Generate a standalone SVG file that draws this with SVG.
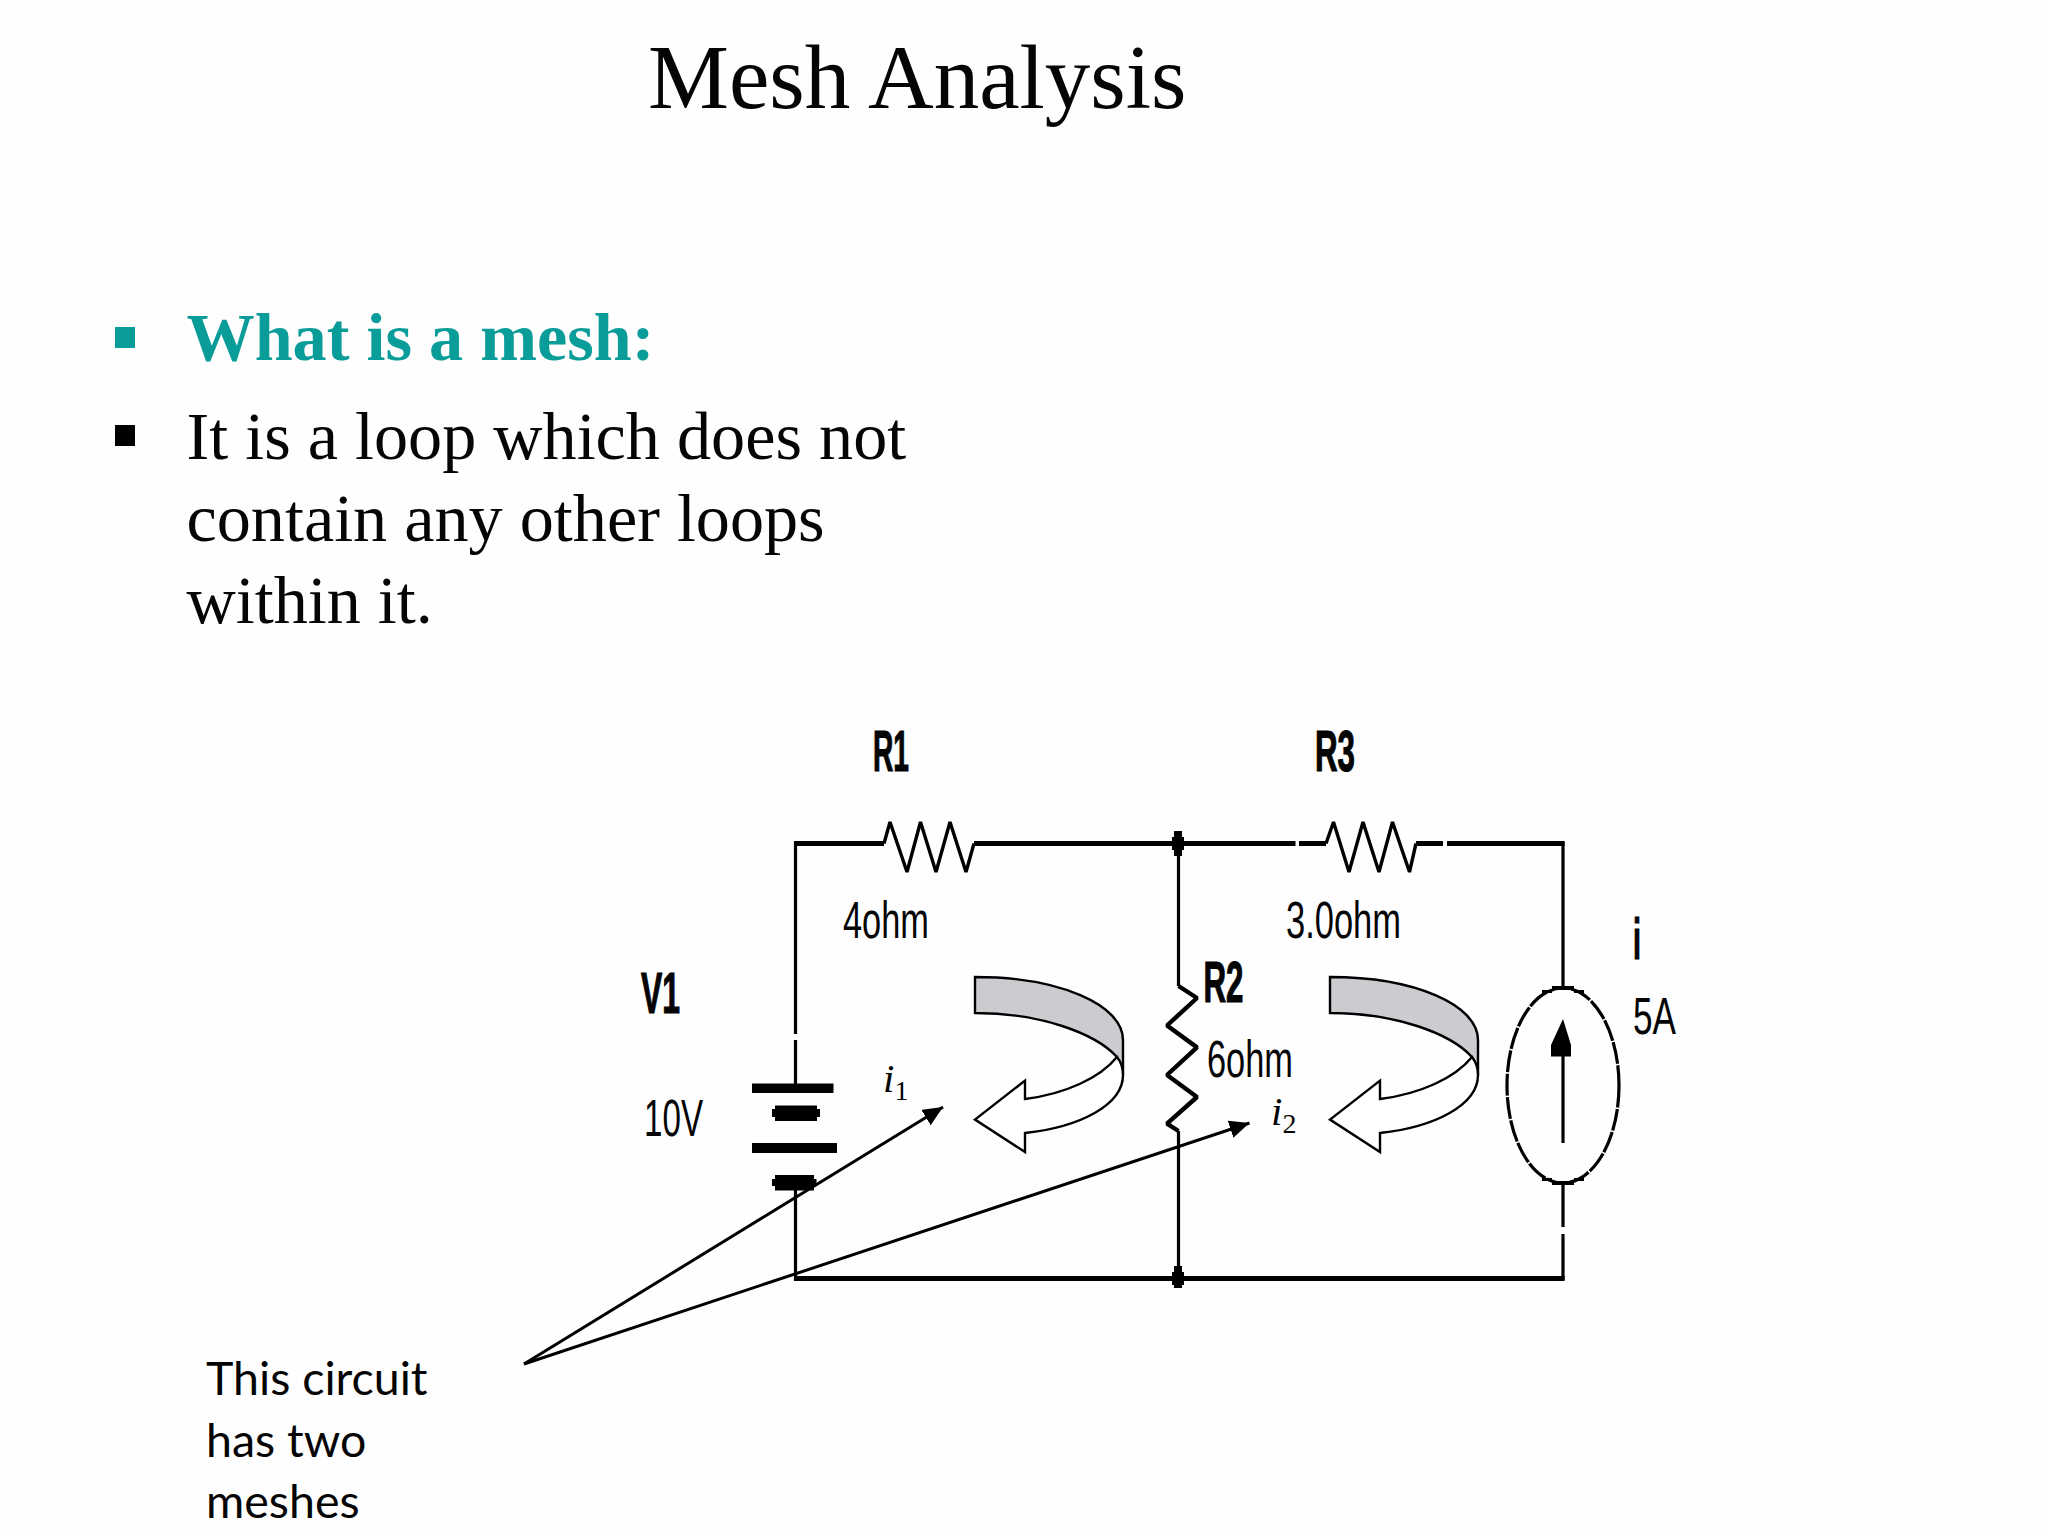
<svg xmlns="http://www.w3.org/2000/svg" xmlns:xlink="http://www.w3.org/1999/xlink" width="2048" height="1536" viewBox="0 0 2048 1536">
<style>
text{fill:#050505}
.ser{font-family:"Liberation Serif","Times New Roman",serif}
.h{font-size:91px}
.b{font-size:68.2px}
.note{font-family:Lato,"Open Sans",sans-serif;font-size:46.5px}
.lb{font-family:"Liberation Sans",Arial,sans-serif;font-weight:700;font-size:58px;stroke:#000;stroke-width:1.2}
.lr{font-family:"Liberation Sans",Arial,sans-serif;font-size:52px}
.it{font-style:italic;font-size:41px}
.sub{font-size:28px}
.wt{fill:none;stroke:#000;stroke-width:5}
.wn{fill:none;stroke:#000;stroke-width:3.2}
.zig{fill:none;stroke:#000;stroke-width:3.4;stroke-linejoin:bevel}
.ptr{fill:none;stroke:#000;stroke-width:3}
.cv{stroke:#000;stroke-width:2.4;stroke-linejoin:miter}
</style>
<defs>
<marker id="ah" markerUnits="userSpaceOnUse" markerWidth="24" markerHeight="20" refX="20" refY="9" orient="auto"><path d="M0 0L20 9L0 18Z" fill="#000"/></marker>
<g id="curl">
<path class="cv" fill="#cbcbd0" d="M975 977C1060 977 1123 1005 1123 1040V1075C1123 1068 1120 1062 1117 1057C1095 1033 1040 1013 975 1013Z"/>
<path class="cv" fill="#fff" d="M1117 1057C1121 1062 1123 1068 1123 1075C1123 1105 1080 1127 1025 1133V1152L975 1119.6L1025 1080.6V1099C1065 1094 1100 1078 1117 1057Z"/>
</g>
</defs>
<rect width="2048" height="1536" fill="#fefefe"/>
<g id="title"><text class="ser h" x="648" y="108">Mesh Analysis</text></g>
<g id="bullets">
<rect x="115" y="327" width="20" height="21" fill="#0a9c99"/>
<text class="ser b" x="186.5" y="360" font-weight="700" style="fill:#0a9c99">What is a mesh:</text>
<rect x="115" y="425" width="20" height="21" fill="#000"/>
<text class="ser b" x="186.5" y="459">It is a loop which does not</text>
<text class="ser b" x="186.5" y="541">contain any other loops</text>
<text class="ser b" x="186.5" y="623">within it.</text>
</g>
<g id="connectors">
<path class="wt" d="M794 843.5H884M974 843.5H1295.5M1299 843.5H1326M1416 843.5H1443M1447 843.5H1564.6"/>
<path class="wt" d="M794 1278.5H1564.6"/>
<path class="wn" d="M795.5 842V1034M795.5 1040V1084M795.5 1190V1280"/>
<path class="wn" d="M1178.5 843.5V986M1178.5 1131V1278"/>
<path class="wn" d="M1563 842V987M1563 1184V1227M1563 1234V1280"/>
<path class="ptr" marker-end="url(#ah)" d="M524 1364L943 1107"/>
<path class="ptr" marker-end="url(#ah)" d="M524 1364L1249.5 1123"/>
</g>
<g id="R1">
<path class="zig" d="M884 843.5L890 822L907 872L920.5 822L936 872L950 822L966 872L974 843.5"/>
<text class="lb" x="873" y="771" textLength="36" lengthAdjust="spacingAndGlyphs">R1</text>
<text class="lr" x="843" y="938" textLength="86" lengthAdjust="spacingAndGlyphs">4ohm</text>
</g>
<g id="R3">
<path class="zig" d="M1326 843.5L1333.5 822L1349 872L1363 822L1379 872L1392.5 822L1409.5 872L1416 843.5"/>
<text class="lb" x="1315" y="771" textLength="40" lengthAdjust="spacingAndGlyphs">R3</text>
<text class="lr" x="1286" y="938" textLength="115" lengthAdjust="spacingAndGlyphs">3.0ohm</text>
</g>
<g id="R2">
<path class="zig" style="stroke-width:4.4" d="M1178.5 986L1197 998L1167 1025.5L1197 1047.4L1167 1075L1197 1097L1167 1123.7L1178.5 1131"/>
<text class="lb" x="1203.5" y="1002" textLength="40" lengthAdjust="spacingAndGlyphs">R2</text>
<text class="lr" x="1207" y="1077" textLength="86" lengthAdjust="spacingAndGlyphs">6ohm</text>
</g>
<g id="junctions">
<path d="M1174 831H1182V837H1184V850H1182V856H1174V850H1172V837H1174Z" fill="#000"/>
<path d="M1174 1266H1182V1272H1184V1285H1182V1288H1174V1285H1172V1272H1174Z" fill="#000"/>
</g>
<g id="V1">
<rect x="752" y="1083.5" width="81.5" height="9.5" fill="#000"/>
<path d="M775 1105.5H817V1109H820V1117H817V1121H775V1117H772V1109H775Z" fill="#000"/>
<rect x="752" y="1143" width="85" height="10" fill="#000"/>
<path d="M775 1175H814V1179H816.5V1186H814V1190.5H775V1186H772V1179H775Z" fill="#000"/>
<text class="lb" x="641" y="1013" textLength="39" lengthAdjust="spacingAndGlyphs">V1</text>
<text class="lr" x="644" y="1136" textLength="59" lengthAdjust="spacingAndGlyphs">10V</text>
</g>
<g id="I1">
<ellipse class="wn" cx="1563" cy="1085.5" rx="56" ry="97.5" stroke-dasharray="22 1.5"/>
<path d="M1552 986H1574V990H1584V993H1574V990H1552V993H1542V990H1552ZM1552 1181H1574V1185H1552ZM1542 1178H1552V1181H1542ZM1574 1178H1584V1181H1574Z" fill="#000"/>
<path class="wn" d="M1563 1143V1050"/>
<path d="M1563 1019L1571 1045V1056.5H1551V1045Z" fill="#000"/>
<text class="lb" x="1633" y="959" textLength="8" lengthAdjust="spacingAndGlyphs">i</text>
<text class="lr" x="1633" y="1034" textLength="43" lengthAdjust="spacingAndGlyphs">5A</text>
</g>
<g id="mesh1">
<use href="#curl" xlink:href="#curl"/>
<text class="ser" x="883" y="1092"><tspan class="it">i</tspan><tspan class="sub" dy="8">1</tspan></text>
</g>
<g id="mesh2">
<use href="#curl" xlink:href="#curl" transform="translate(355 0)"/>
<text class="ser" x="1271" y="1125"><tspan class="it">i</tspan><tspan class="sub" dy="8">2</tspan></text>
</g>
<g id="note">
<text class="note" x="206" y="1395">This circuit</text>
<text class="note" x="206" y="1457">has two</text>
<text class="note" x="206" y="1518">meshes</text>
</g>
</svg>
